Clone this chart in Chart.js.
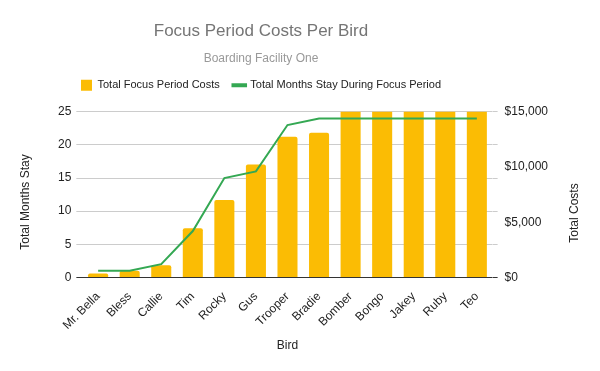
<!DOCTYPE html>
<html>
<head>
<meta charset="utf-8">
<script src="https://cdn.jsdelivr.net/npm/chart.js@4"></script>
<style>
  html, body { margin: 0; padding: 0; background: #fff; }
  #wrap { width: 600px; height: 371px; }
</style>
</head>
<body>
<div id="wrap"><canvas id="myChart"></canvas></div>
<script>
const birds = ['Mr. Bella', 'Bless', 'Callie', 'Tim', 'Rocky', 'Gus', 'Trooper', 'Bradie', 'Bomber', 'Bongo', 'Jakey', 'Ruby', 'Teo'];
const totalCosts = [360, 610, 1090, 4460, 7010, 10230, 12750, 13110, 16500, 16500, 16500, 16500, 16500];
const monthsStay = [1, 1, 2, 7, 15, 16, 23, 24, 24, 24, 24, 24, 24];
const monthTicks = [0, 5, 10, 15, 20, 25];
const costLabels = [0, 5000, 10000, 15000];
const costGrid = [0, 3000, 6000, 9000, 12000, 15000];

const ctx = document.getElementById('myChart');
Chart.defaults.font.family = "'Liberation Sans', Arial, sans-serif";
Chart.defaults.color = '#222';

// google-style header: title, subtitle and legend sit a bit left of centre
const shiftHeader = {
    id: 'shiftHeader',
    afterLayout(chart) {
        chart.boxes.forEach(b => {
            if (b.position === 'top' && !b.axis) {
                const d = 261 - (b.left + b.right) / 2;
                b.left += d;
                b.right += d;
            }
        });
    }
};

// both side titles read bottom-to-top, like in sheets
const sideTitles = {
    id: 'sideTitles',
    afterDraw(chart) {
        const c = chart.ctx;
        c.save();
        c.fillStyle = '#222';
        c.font = "12px 'Liberation Sans', Arial, sans-serif";
        c.textAlign = 'center';
        c.textBaseline = 'middle';
        [['Total Months Stay', 26, 202], ['Total Costs', 575, 213]].forEach(t => {
            c.save();
            c.translate(t[1], t[2]);
            c.rotate(-Math.PI / 2);
            c.fillText(t[0], 0, 0);
            c.restore();
        });
        c.restore();
    }
};

new Chart(ctx, {
    type: 'bar',
    data: {
        labels: birds,
        datasets: [{
            label: 'Total Focus Period Costs',
            data: totalCosts,
            xAxisID: 'x',
            yAxisID: 'y1',
            backgroundColor: '#fbbc04',
            borderRadius: 2,
            categoryPercentage: 1,
            barPercentage: 0.635,
            pointStyle: 'rect',
            order: 1
        }, {
            type: 'line',
            label: 'Total Months Stay During Focus Period',
            data: monthsStay,
            xAxisID: 'x',
            yAxisID: 'y',
            borderColor: '#34a853',
            backgroundColor: '#34a853',
            borderWidth: 2,
            pointRadius: 0,
            tension: 0,
            pointStyle: 'line',
            order: 0
        }]
    },
    options: {
        responsive: true,
        maintainAspectRatio: false,
        animation: false,
        layout: { padding: { top: 7, left: 53, right: 45, bottom: 14 } },
        plugins: {
            title: {
                display: true,
                text: 'Focus Period Costs Per Bird',
                color: '#757575',
                font: { size: 17, weight: 'normal' },
                padding: { top: 14, bottom: 0 }
            },
            subtitle: {
                display: true,
                text: 'Boarding Facility One',
                color: '#999',
                font: { size: 12, weight: 'normal' },
                padding: { top: 10, bottom: 0 }
            },
            legend: {
                position: 'top',
                labels: {
                    usePointStyle: true,
                    boxWidth: 11,
                    boxHeight: 11,
                    padding: 14,
                    color: '#222',
                    font: { size: 11 },
                    sort: (a, b) => a.datasetIndex - b.datasetIndex,
                    generateLabels(chart) {
                        const items = Chart.defaults.plugins.legend.labels.generateLabels(chart);
                        items.forEach(it => {
                            it.lineWidth = it.datasetIndex === 1 ? 4 : 0;
                        });
                        return items;
                    }
                }
            },
            tooltip: { enabled: false }
        },
        scales: {
            x: {
                grid: { display: false },
                border: { display: false },
                ticks: { maxRotation: 45, minRotation: 45, font: { size: 12 }, color: '#222', padding: 4 },
                title: { display: true, text: 'Bird', font: { size: 12 }, color: '#222', padding: { top: 2 } }
            },
            gap: {
                type: 'category',
                position: 'top',
                display: true,
                grid: { display: false },
                border: { display: false },
                ticks: { display: false },
                afterFit: s => { s.height = 11; }
            },
            y: {
                position: 'left',
                min: 0,
                max: 25,
                afterBuildTicks: s => { s.ticks = monthTicks.map(v => ({ value: v })); },
                grid: {
                    color: c => c.tick && c.tick.value === 0 ? '#333' : '#ccc',
                    tickLength: 6
                },
                border: { display: false },
                ticks: { font: { size: 12 }, color: '#222', padding: 5 }
            },
            y1: {
                position: 'right',
                min: 0,
                max: 15000,
                afterBuildTicks: s => {
                    const vals = Array.from(new Set(costGrid.concat(costLabels))).sort((a, b) => a - b);
                    s.ticks = vals.map(v => ({ value: v }));
                },
                grid: {
                    drawOnChartArea: false,
                    tickLength: 5,
                    color: c => {
                        if (!c.tick) return '#ccc';
                        if (costGrid.indexOf(c.tick.value) < 0) return 'rgba(0,0,0,0)';
                        return c.tick.value === 0 ? '#333' : '#ccc';
                    }
                },
                border: { display: false },
                ticks: {
                    autoSkip: false,
                    font: { size: 12 },
                    color: '#222',
                    padding: 7,
                    callback: v => costLabels.indexOf(v) >= 0 ? '$' + v.toLocaleString('en-US') : ''
                }
            }
        }
    },
    plugins: [shiftHeader, sideTitles]
});
</script>
</body>
</html>
